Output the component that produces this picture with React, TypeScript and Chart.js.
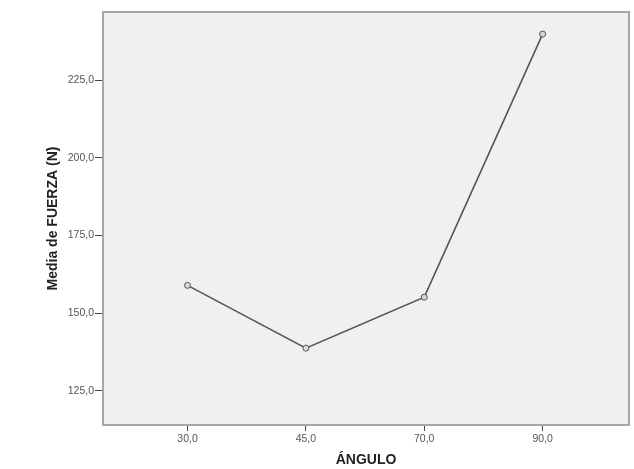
import React, { useEffect, useRef } from "react";
import { Chart, registerables } from "chart.js";

Chart.register(...registerables);

const categories = ["30,0", "45,0", "70,0", "90,0"];
const fuerza = [158.9, 138.7, 155.1, 239.8];
const yTicks = [125, 150, 175, 200, 225];

const W = 634;
const H = 469;
const AREA_LEFT = 103;
const AREA_TOP = 12;
const AREA_RIGHT = 632;
const AREA_BOTTOM = 425;

const framePlugin = {
  id: "frame",
  beforeDatasetsDraw(chart: any) {
    const { ctx, chartArea } = chart;
    const { left, top, right, bottom } = chartArea;
    ctx.save();
    ctx.fillStyle = "#f0f0f0";
    ctx.fillRect(left, top, right - left, bottom - top);
    ctx.strokeStyle = "#a6a6a6";
    ctx.lineWidth = 2;
    ctx.strokeRect(left, top, right - left, bottom - top);
    ctx.restore();
  },
};

export default function App() {
  const ref = useRef<HTMLCanvasElement | null>(null);
  useEffect(() => {
    if (!ref.current) return;
    const chart = new Chart(ref.current, {
      type: "line",
      data: {
        datasets: [
          {
            data: fuerza.map((v, i) => ({ x: i, y: v })),
            borderColor: "#555555",
            borderWidth: 1.6,
            backgroundColor: "#cfcfcf",
            pointRadius: 3,
            pointBorderColor: "#555555",
            pointBorderWidth: 1,
            pointBackgroundColor: "#d8d8d8",
            tension: 0,
          },
        ],
      },
      plugins: [framePlugin],
      options: {
        animation: false,
        responsive: false,
        maintainAspectRatio: false,
        layout: { padding: { left: 0, top: AREA_TOP, right: W - AREA_RIGHT, bottom: 0 } },
        plugins: { legend: { display: false }, tooltip: { enabled: false } },
        scales: {
          x: {
            type: "linear",
            min: -0.714,
            max: 3.73,
            afterBuildTicks(scale: any) {
              scale.ticks = categories.map((_, i) => ({ value: i }));
            },
            afterFit(scale: any) {
              scale.height = H - AREA_BOTTOM;
            },
            grid: { display: true, drawOnChartArea: false, drawTicks: true, tickLength: 6, color: "#444", lineWidth: 1 },
            border: { display: false },
            ticks: {
              callback: (v: any) => categories[Math.round(v)] ?? "",
              font: { family: "Arial, 'Liberation Sans'", size: 10.5 },
              color: "#555",
              padding: 2,
              maxRotation: 0,
            },
            title: {
              display: true,
              text: "ÁNGULO",
              font: { family: "Arial, 'Liberation Sans'", size: 14, weight: "bold" },
              color: "#222",
              padding: { top: 0, bottom: 0 },
            },
          },
          y: {
            type: "linear",
            min: 113.96,
            max: 246.9,
            afterBuildTicks(scale: any) {
              scale.ticks = yTicks.map((v) => ({ value: v }));
            },
            afterFit(scale: any) {
              scale.width = AREA_LEFT;
            },
            grid: { display: true, drawOnChartArea: false, drawTicks: true, tickLength: 8, color: "#444", lineWidth: 1 },
            border: { display: false },
            ticks: {
              callback: (v: any) => Number(v).toFixed(1).replace(".", ","),
              font: { family: "Arial, 'Liberation Sans'", size: 10.5 },
              color: "#555",
              padding: 1,
            },
            title: {
              display: true,
              text: "Media de FUERZA (N)",
              font: { family: "Arial, 'Liberation Sans'", size: 14, weight: "bold" },
              color: "#222",
              padding: { top: 45, bottom: 0 },
            },
          },
        },
      },
    });
    return () => chart.destroy();
  }, []);
  return (
    <div style={{ position: "absolute", left: 0, top: 0, width: W, height: H, background: "#fff" }}>
      <canvas ref={ref} width={W} height={H} style={{ width: W, height: H, display: "block" }} />
    </div>
  );
}
